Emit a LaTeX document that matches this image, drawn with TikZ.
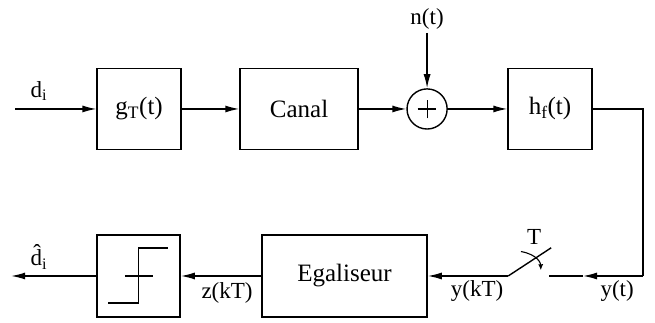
\documentclass[tikz,border=0pt]{standalone}
\usepackage{fontspec}
\setmainfont{Liberation Serif}
\usetikzlibrary{arrows.meta, positioning, calc}

\begin{document}
\begin{tikzpicture}[
    font=\fontsize{23}{27}\selectfont,
    block/.style={rectangle, draw=black, line width=1.4pt, minimum width=2.95cm, minimum height=2.85cm, align=center, inner sep=0pt, font=\fontsize{25}{29}\selectfont},
    adder/.style={circle, draw=black, line width=1.4pt, minimum size=1.41cm, inner sep=0pt},
    link/.style={-, line width=1.4pt},
    flow/.style={-{Latex[length=14pt, width=7pt]}, line width=1.4pt},
    sig/.style={inner sep=1pt}
]

% Frame
\useasboundingbox (0,0) rectangle (23.02,11.35);

% Emitter chain
\node[block] (g_t) at (4.89, 7.52) {g\textsubscript{T}(t)};
\node[block, minimum width=4.15cm] (canal) at (10.51, 7.52) {Canal};
\node[adder] (sum) at (15.01, 7.52) {};
\node[block] (h_f) at (19.33, 7.52) {h\textsubscript{f}(t)};

% Receiver chain
\node[block, minimum width=5.8cm, minimum height=2.88cm] (egal) at (12.11, 1.65) {Egaliseur};
\node[block, minimum width=2.92cm, minimum height=2.88cm] (decide) at (4.87, 1.65) {};

% Free ends
\coordinate (in) at (0.53, 7.52);
\coordinate (noise) at (15.01, 10.19);
\coordinate (corner) at (22.60, 1.65);
\coordinate (y_mid) at (20.49, 1.65);
\coordinate (sw_r) at (19.30, 1.65);
\coordinate (sw_l) at (17.86, 1.65);
\coordinate (sw_tip) at (19.37, 2.64);
\coordinate (out) at (0.39, 1.65);

% Paths
\draw[flow] (in) -- (g_t);
\draw[flow] (g_t) -- (canal);
\draw[flow] (canal) -- (sum);
\draw[flow] (sum) -- (h_f);
\draw[flow] (noise) -- (sum);
\draw[link] (h_f) -| (corner);
\draw[flow] (corner) -- (y_mid);
\draw[link] (y_mid) -- (sw_r);
\draw[link] (sw_l) -- (sw_tip);
\draw[flow] (sw_l) -- (egal);
\draw[flow] (egal) -- (decide);
\draw[flow] (decide) -- (out);

% Adder cross
\draw[line width=1.1pt] ([xshift=-0.33cm]sum.center) -- ([xshift=0.33cm]sum.center);
\draw[line width=1.1pt] ([yshift=-0.33cm]sum.center) -- ([yshift=0.33cm]sum.center);

% Sampling switch
\draw[-{Latex[length=6pt, width=5pt]}, line width=1.1pt] (18.31, 2.51) .. controls (18.90, 2.40) and (19.00, 2.10) .. (19.01, 1.85);

% Decision step
\draw[link] ([shift={(-1.07,-0.95)}]decide.center) -- ++(1.07,0) -- ++(0,1.93) -- ++(1.05,0);
\draw[link] ([shift={(-0.48,0)}]decide.center) -- ++(0.99,0);

% Signal names
\node[sig] (n_t) at (15.01, 10.68) {n(t)};
\node[sig] (d_in) at (1.37, 8.15) {d\textsubscript{i}};
\node[sig] (d_out) at (1.37, 2.32) {\^{d}\textsubscript{i}};
\node[sig] (z_kt) at (7.98, 1.04) {z(kT)};
\node[sig] (y_kt) at (16.77, 1.12) {y(kT)};
\node[sig] (y_t) at (21.69, 1.12) {y(t)};
\node[sig] (t_s) at (18.77, 3.02) {T};

\end{tikzpicture}
\end{document}
